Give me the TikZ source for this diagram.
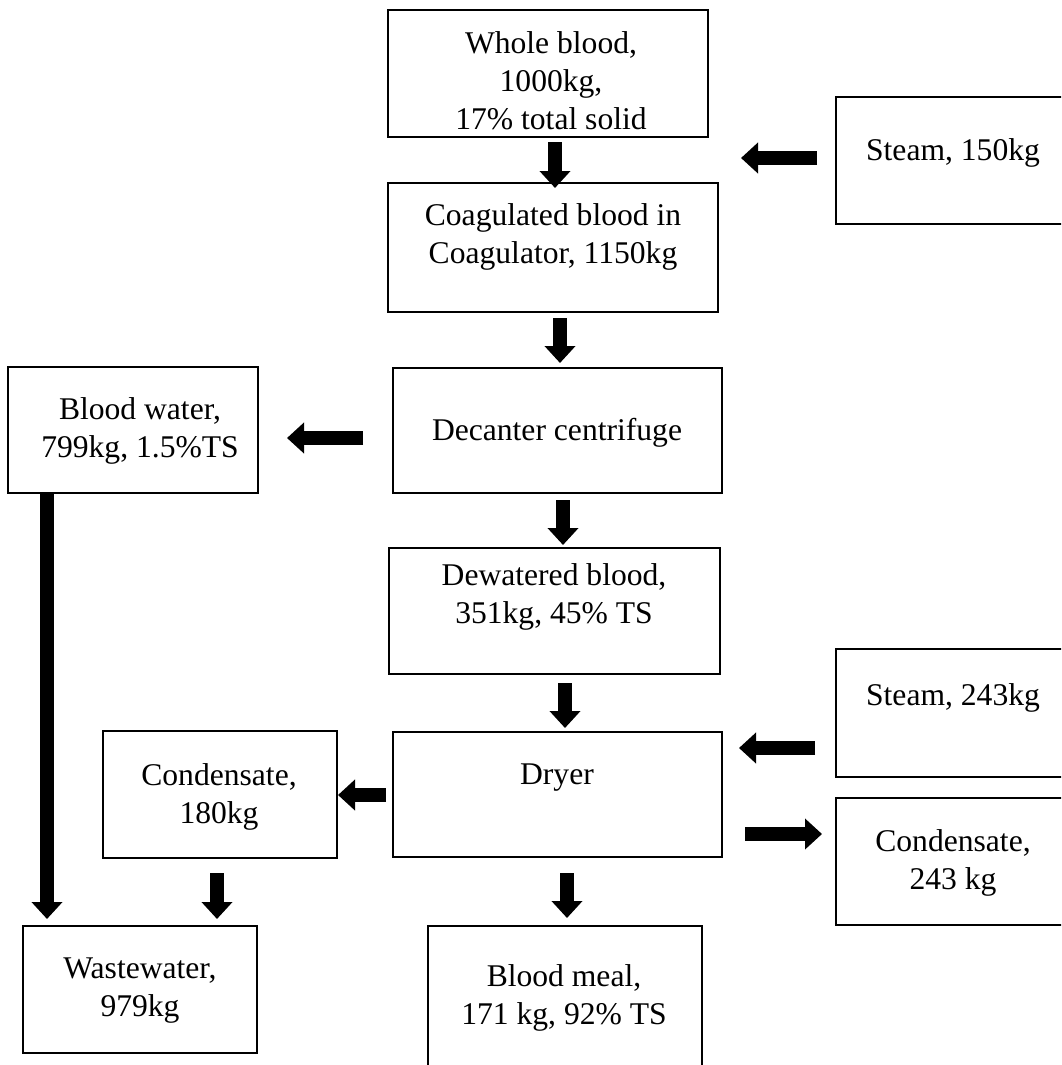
\documentclass[tikz,border=0pt]{standalone}
\usepackage{fontspec}
\setmainfont{Liberation Serif}
\usetikzlibrary{arrows.meta,calc}
\begin{document}
\begin{tikzpicture}[x=1pt,y=-1pt,
  box/.style={draw,line width=2pt,inner sep=0pt,outer sep=0pt},
  txt/.style={align=center,inner sep=0pt,font=\fontsize{31.6}{38}\selectfont},
  flow/.style={line width=14pt,-{Triangle[width=30pt,length=17pt]}}]
\clip (0,0) rectangle (1061,1065);
% boxes
\node[box,minimum width=320pt,minimum height=127pt] (whole) at (548,73.5) {};
\node[box,minimum width=330pt,minimum height=129pt] (coag) at (553,247.5) {};
\node[box,minimum width=264pt,minimum height=127pt] (steamA) at (968,160.5) {};
\node[box,minimum width=250pt,minimum height=126pt] (bw) at (133,430) {};
\node[box,minimum width=329pt,minimum height=125pt] (dec) at (557.5,430.5) {};
\node[box,minimum width=331pt,minimum height=126pt] (dew) at (554.5,611) {};
\node[box,minimum width=329pt,minimum height=125pt] (dryer) at (557.5,794.5) {};
\node[box,minimum width=264pt,minimum height=128pt] (steamB) at (968,713) {};
\node[box,minimum width=264pt,minimum height=127pt] (condB) at (968,861.5) {};
\node[box,minimum width=234pt,minimum height=127pt] (condA) at (220,794.5) {};
\node[box,minimum width=234pt,minimum height=127pt] (ww) at (140,989.5) {};
\node[box,minimum width=274pt,minimum height=174pt] (meal) at (565,1013) {};
% texts
\node[txt] (twhole) at (551,81) {Whole blood,\\1000kg,\\17\% total solid};
\node[txt] (tcoag) at (553,237) {Coagulated blood in\\Coagulator, 1150kg};
\node[txt] (tsteamA) at (953,153) {Steam, 150kg};
\node[txt] (tbw) at (140,431) {Blood water,\\799kg, 1.5\%TS};
\node[txt] (tdec) at (557,433) {Decanter centrifuge};
\node[txt] (tdew) at (554,597) {Dewatered blood,\\351kg, 45\% TS};
\node[txt] (tdryer) at (557,778) {Dryer};
\node[txt] (tsteamB) at (953,698) {Steam, 243kg};
\node[txt] (tcondB) at (953,863) {Condensate,\\243 kg};
\node[txt] (tcondA) at (219,797) {Condensate,\\180kg};
\node[txt] (tww) at (140,991) {Wastewater,\\979kg};
\node[txt] (tmeal) at (564,998) {Blood meal,\\171 kg, 92\% TS};
% arrows
\draw[flow] ($(whole.south)+(7,5)$) -- ($(coag.north)+(2,5)$);
\draw[flow] ($(steamA.west)+(-19,-2.5)$) -- ($(coag.north east)+(23,-25)$);
\draw[flow] ($(coag.south)+(7,6)$) -- ($(dec.north)+(2.5,-5)$);
\draw[flow] ($(dec.west)+(-30,7.5)$) -- ($(bw.east)+(29,8)$);
\draw[flow] ($(dec.south)+(5.5,7)$) -- ($(dew.north)+(8.5,-3)$);
\draw[flow] ($(dew.south)+(10.5,9)$) -- ($(dryer.north)+(7.5,-4)$);
\draw[flow] ($(steamB.west)+(-21,35)$) -- ($(dryer.east)+(17,-46.5)$);
\draw[flow] ($(dryer.east)+(23,39.5)$) -- ($(condB.west)+(-14,-27.5)$);
\draw[flow] ($(dryer.west)+(-7,0.5)$) -- ($(condA.east)+(1,0.5)$);
\draw[flow] ($(condA.south)+(-3,15)$) -- ($(ww.north)+(77,-7)$);
\draw[flow] ($(bw.south)+(-86,0)$) -- ($(ww.north)+(-93,-7)$);
\draw[flow] ($(dryer.south)+(9.5,16)$) -- ($(meal.north)+(2,-8)$);
\end{tikzpicture}
\end{document}
